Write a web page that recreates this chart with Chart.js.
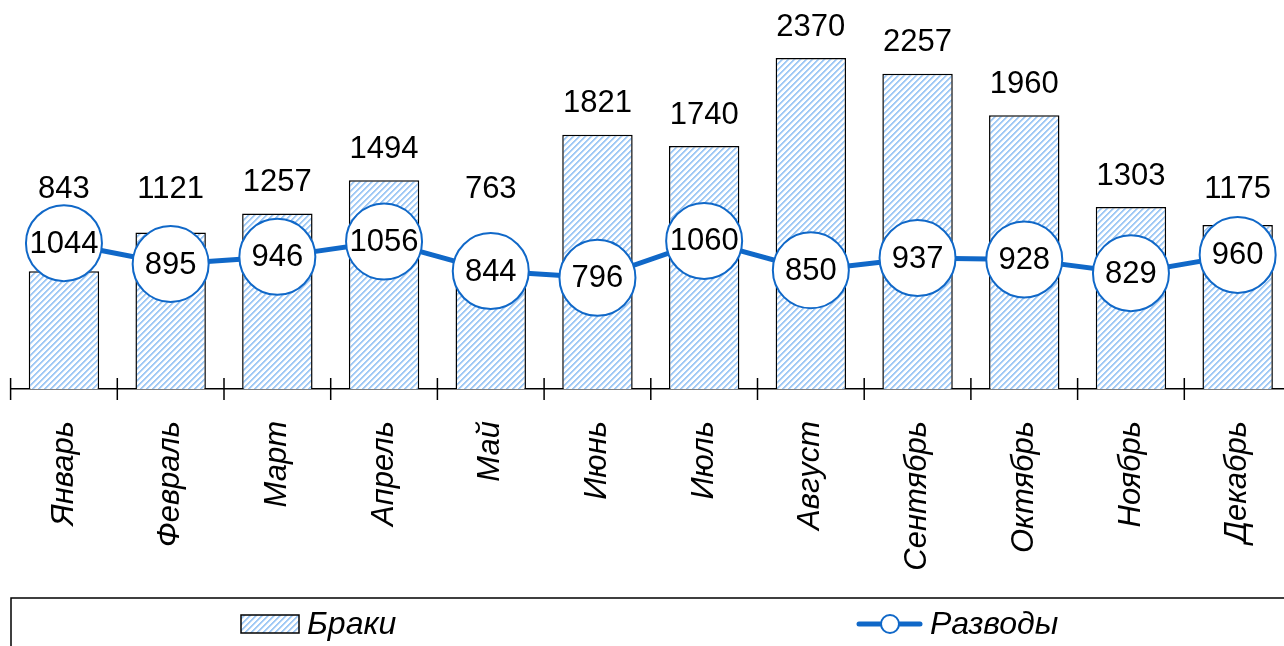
<!DOCTYPE html>
<html>
<head>
<meta charset="utf-8">
<script src="https://cdn.jsdelivr.net/npm/chart.js@4"></script>
<style>
  html, body { margin: 0; padding: 0; overflow: hidden; background: #fff; }
  #wrap { width: 1295px; height: 646px; }
</style>
</head>
<body>
<div id="wrap"><canvas id="chart" width="1295" height="646"></canvas></div>
<script>
const MONTHS = ["Январь", "Февраль", "Март", "Апрель", "Май", "Июнь",
                "Июль", "Август", "Сентябрь", "Октябрь", "Ноябрь", "Декабрь"];
const MARRIAGES = [843, 1121, 1257, 1494, 763, 1821, 1740, 2370, 2257, 1960, 1303, 1175];
const DIVORCES  = [1044, 895, 946, 1056, 844, 796, 1060, 850, 937, 928, 829, 960];
const SERIES_NAMES = ["Браки", "Разводы"];
const Y_MAX = 2785;
const LABEL_FLOOR = 1210; // bar labels are lifted clear of the circles

const FONT = "'Liberation Sans', Arial, sans-serif";
const BLUE = "#1068c8";

// crisp "////" hatch, pixel by pixel
function makeHatch(ctx) {
  const s = 6;
  const c = document.createElement("canvas");
  c.width = s; c.height = s;
  const g = c.getContext("2d");
  const img = g.createImageData(s, s);
  for (let py = 0; py < s; py++) {
    for (let px = 0; px < s; px++) {
      const k = (px + py) % s;
      const i = (py * s + px) * 4;
      let rgb = [255, 255, 255];
      if (k === 0 || k === 1) rgb = [160, 201, 245];
      else if (k === 2) rgb = [205, 227, 250];
      img.data[i] = rgb[0]; img.data[i + 1] = rgb[1]; img.data[i + 2] = rgb[2]; img.data[i + 3] = 255;
    }
  }
  g.putImageData(img, 0, 0);
  return ctx.createPattern(c, "repeat");
}

const canvas = document.getElementById("chart");
const ctx = canvas.getContext("2d");
const hatch = makeHatch(ctx);

const decorations = {
  id: "decorations",
  afterDatasetsDraw(chart) {
    const { ctx, chartArea } = chart;
    const x = chart.scales.x, y = chart.scales.y;
    ctx.save();

    // axis ticks crossing the line, at category boundaries
    const step = x.getPixelForValue(1) - x.getPixelForValue(0);
    ctx.strokeStyle = "#000";
    ctx.lineWidth = 1.5;
    for (let i = 0; i <= MONTHS.length; i++) {
      const px = x.getPixelForValue(i) - step / 2;
      ctx.beginPath();
      ctx.moveTo(px, chartArea.bottom - 11);
      ctx.lineTo(px, chartArea.bottom + 11);
      ctx.stroke();
    }

    ctx.font = "31px " + FONT;
    ctx.fillStyle = "#000";
    ctx.textAlign = "center";
    ctx.textBaseline = "middle";

    // values above bars
    MARRIAGES.forEach((v, i) => {
      const py = y.getPixelForValue(Math.max(v, LABEL_FLOOR)) - 31;
      ctx.fillText(String(v), x.getPixelForValue(i), py);
    });

    // values inside circles
    const pts = chart.getDatasetMeta(0).data;
    DIVORCES.forEach((v, i) => {
      ctx.fillText(String(v), pts[i].x, pts[i].y + 1);
    });
    ctx.restore();
  },
  afterDraw(chart) {
    const { ctx } = chart;
    ctx.save();
    ctx.strokeStyle = "#000";
    ctx.lineWidth = 1.5;
    ctx.strokeRect(11, 598, 1400, 100);

    // marriages swatch
    ctx.fillStyle = hatch;
    ctx.fillRect(241, 615, 58, 18);
    ctx.strokeRect(241, 615, 58, 18);

    // divorces line + marker
    ctx.strokeStyle = BLUE;
    ctx.lineWidth = 5;
    ctx.lineCap = "round";
    ctx.beginPath();
    ctx.moveTo(859, 624);
    ctx.lineTo(920, 624);
    ctx.stroke();
    ctx.beginPath();
    ctx.arc(890, 624, 9, 0, Math.PI * 2);
    ctx.fillStyle = "#fff";
    ctx.fill();
    ctx.lineWidth = 2;
    ctx.stroke();

    ctx.fillStyle = "#000";
    ctx.font = "italic 32px " + FONT;
    ctx.textAlign = "left";
    ctx.textBaseline = "middle";
    ctx.fillText(SERIES_NAMES[0], 307, 625);
    ctx.fillText(SERIES_NAMES[1], 930, 625);
    ctx.restore();
  }
};

new Chart(ctx, {
  data: {
    labels: MONTHS,
    datasets: [
      {
        type: "line",
        label: SERIES_NAMES[1],
        data: DIVORCES,
        borderColor: BLUE,
        borderWidth: 5,
        tension: 0,
        pointRadius: 38,
        pointBackgroundColor: "#fff",
        pointBorderColor: BLUE,
        pointBorderWidth: 2,
        order: 0
      },
      {
        type: "bar",
        label: SERIES_NAMES[0],
        data: MARRIAGES,
        backgroundColor: hatch,
        borderColor: "#000",
        borderWidth: 1.5,
        barPercentage: 0.66,
        categoryPercentage: 1,
        order: 1
      }
    ]
  },
  options: {
    responsive: false,
    animation: false,
    layout: { autoPadding: false, padding: { left: 10.6, right: 4, top: 0, bottom: 0 } },
    plugins: { legend: { display: false }, tooltip: { enabled: false } },
    scales: {
      x: {
        grid: { display: false },
        border: { color: "#000", width: 1.5 },
        ticks: {
          color: "#000",
          font: { family: FONT, size: 31, style: "italic" },
          minRotation: 90,
          maxRotation: 90,
          autoSkip: false,
          padding: 24
        },
        afterFit(scale) {
          scale.height = 646 - 389;
          scale.paddingLeft = 0;
          scale.paddingRight = 0;
        }
      },
      y: { display: false, min: 0, max: Y_MAX }
    }
  },
  plugins: [decorations]
});
</script>
</body>
</html>
